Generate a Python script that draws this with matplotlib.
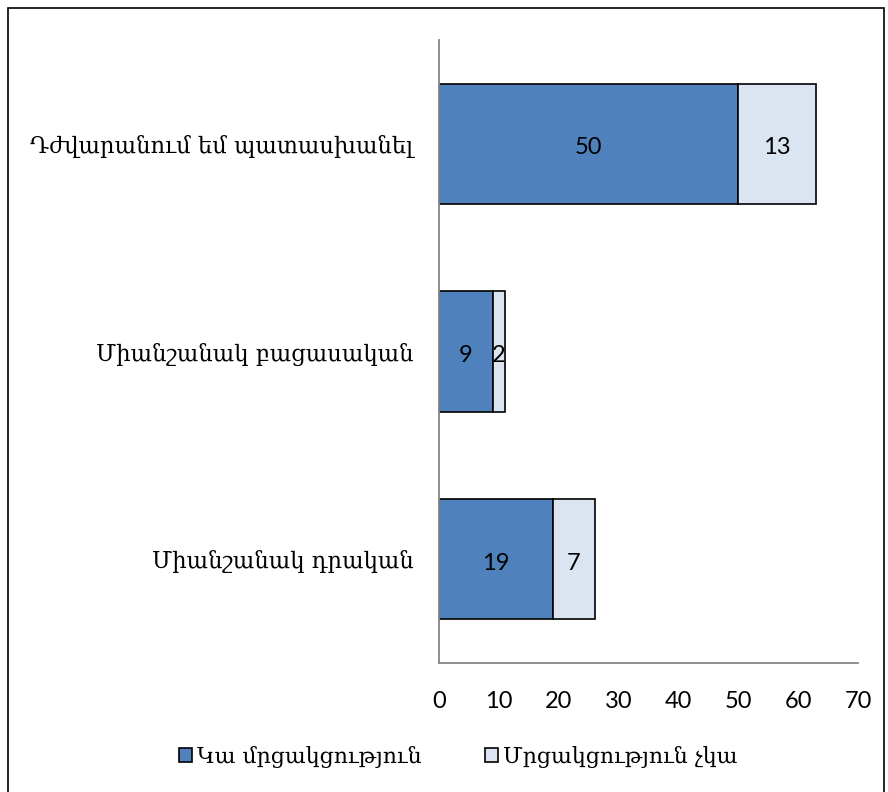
import numpy as np
import matplotlib.pyplot as plt
from matplotlib.patches import Rectangle

categories = ["Միանշանակ դրական", "Միանշանակ բացասական", "Դժվարանում եմ պատասխանել"]
has_competition = [19, 9, 50]
no_competition = [7, 2, 13]
series_names = ["Կա մրցակցություն", "Մրցակցություն չկա"]
xticks = [0, 10, 20, 30, 40, 50, 60, 70]

serif = ["DejaVu Serif", "DejaVu Sans"]
sans = ["Lato", "DejaVu Sans"]

fig = plt.figure(figsize=(8.88, 7.92), dpi=100)
fig.patches.append(Rectangle((8 / 888, -0.01), 876 / 888, 1 - 8 / 792 + 0.01,
                             transform=fig.transFigure, fill=False,
                             edgecolor="black", linewidth=1.2))
ax = fig.add_axes([0.4944, 0.1629, 0.4718, 0.7866])

y = np.arange(len(categories))
h = 0.58
b1 = ax.barh(y, has_competition, height=h, color="#4F81BD", edgecolor="black",
             linewidth=1.2, label=series_names[0])
b2 = ax.barh(y, no_competition, height=h, left=has_competition, color="#DBE5F1",
             edgecolor="black", linewidth=1.2, label=series_names[1])

# small downward nudge so digits sit in the middle of the bar
for i in range(len(categories)):
    ax.text(has_competition[i] / 2, y[i] - 0.02, str(has_competition[i]), ha="center",
            va="center", fontsize=17, family=sans)
    ax.text(has_competition[i] + no_competition[i] / 2, y[i] - 0.02, str(no_competition[i]),
            ha="center", va="center", fontsize=17, family=sans)

ax.set_xlim(0, 70)
ax.set_ylim(-0.5, 2.5)
ax.set_xticks(xticks)
ax.set_xticklabels([str(t) for t in xticks], family=sans, fontsize=17)
ax.set_yticks(y)
ax.set_yticklabels(categories, family=serif, fontsize=16.3)
ax.tick_params(axis="x", length=0, pad=20)
ax.tick_params(axis="y", length=0, pad=18.5)
for s in ["top", "right"]:
    ax.spines[s].set_visible(False)
for s in ["left", "bottom"]:
    ax.spines[s].set_color("#868686")
    ax.spines[s].set_linewidth(1.3)

fig.legend(handles=[b1, b2], loc="center", bbox_to_anchor=(0.516, 0.044), ncol=2,
           frameon=False, prop={"family": serif, "size": 15.8}, handlelength=0.6,
           handleheight=0.6, handletextpad=0.2, columnspacing=2.9)

plt.savefig("out.png", dpi=100)
